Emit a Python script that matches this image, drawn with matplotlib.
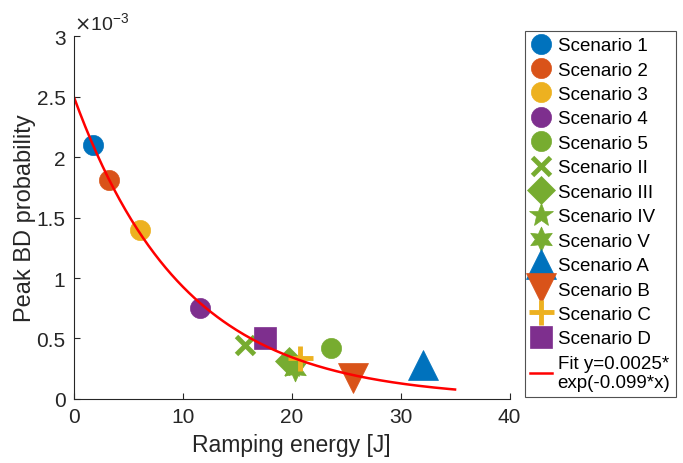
import numpy as np
import matplotlib
matplotlib.use("Agg")
import matplotlib.pyplot as plt

plt.rcParams['font.family'] = ['Liberation Sans', 'DejaVu Sans']

labels = ["Scenario 1", "Scenario 2", "Scenario 3", "Scenario 4", "Scenario 5",
          "Scenario II", "Scenario III", "Scenario IV", "Scenario V",
          "Scenario A", "Scenario B", "Scenario C", "Scenario D"]
energy = [1.8, 3.2, 6.1, 11.6, 23.6, 15.7, 19.8, 20.0, 20.3, 32.1, 25.6, 20.8, 17.6]
peak_bd = [2.10e-3, 1.81e-3, 1.40e-3, 0.75e-3, 0.42e-3, 0.45e-3, 0.31e-3, 0.27e-3,
           0.25e-3, 0.28e-3, 0.17e-3, 0.34e-3, 0.50e-3]
markers = ['o', 'o', 'o', 'o', 'o', 'x', 'D', '*', (6, 1, 0), '^', 'v', '+', 's']
sizes = [14.5, 14.5, 14.5, 14.5, 14.5, 13, 14, 18, 18, 22, 22, 18, 15.5]
colors = ['#0072BD', '#D95319', '#EDB120', '#7E2F8E', '#77AC30',
          '#77AC30', '#77AC30', '#77AC30', '#77AC30',
          '#0072BD', '#D95319', '#EDB120', '#7E2F8E']

fit_a = 0.0025
fit_b = -0.099

fig = plt.figure(figsize=(6.83, 4.64), dpi=100)
ax = fig.add_axes([0.108, 0.138, 0.638, 0.782])

for lab, x, y, m, s, c in zip(labels, energy, peak_bd, markers, sizes, colors):
    mew = 3.5 if m in ('x', '+') else 0.5
    ax.plot(x, y, linestyle='none', marker=m, markersize=s, color=c,
            markeredgewidth=mew, markeredgecolor=c, label=lab)

xf = np.linspace(0, 35, 200)
ax.plot(xf, fit_a * np.exp(fit_b * xf), color='red', lw=1.8,
        label="Fit y=0.0025*\nexp(-0.099*x)")

ax.set_xlim(0, 40)
ax.set_ylim(0, 3e-3)
ax.set_xticks([0, 10, 20, 30, 40])
ax.set_yticks(np.arange(0, 3.01e-3, 0.5e-3))
ax.set_yticklabels(['0', '0.5', '1', '1.5', '2', '2.5', '3'])
ax.text(0.0, 1.008, r'$\times\mathregular{10^{-3}}$', transform=ax.transAxes,
        fontsize=14, color='#262626', va='bottom', ha='left')

for sp in ['top', 'right']:
    ax.spines[sp].set_visible(False)
for sp in ['left', 'bottom']:
    ax.spines[sp].set_color('#262626')
ax.tick_params(direction='in', labelsize=15, colors='#262626', length=4, pad=6)
ax.set_xlabel('Ramping energy [J]', fontsize=16.5, color='#262626', labelpad=5)
ax.set_ylabel('Peak BD probability', fontsize=17, color='#262626', labelpad=0.5)

leg = ax.legend(loc='upper left', bbox_to_anchor=(1.035, 1.013), fontsize=13.5,
                frameon=True, fancybox=False, edgecolor='#262626',
                handlelength=1.15, handletextpad=0.3, borderpad=0.3,
                labelspacing=0.39, borderaxespad=0)
leg.get_frame().set_linewidth(0.8)

fig.savefig('out.png', dpi=100)
